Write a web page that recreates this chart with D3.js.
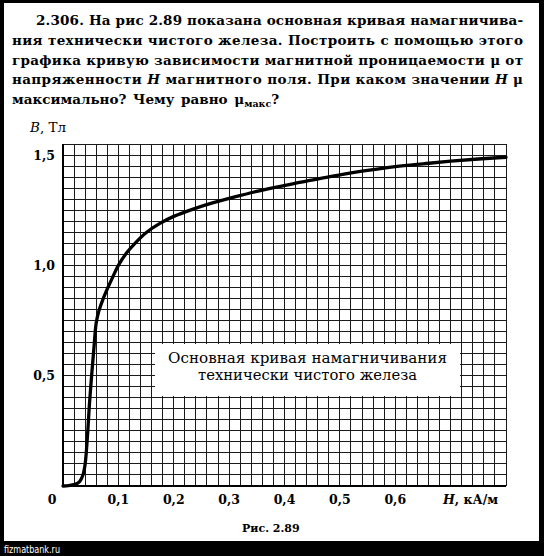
<!DOCTYPE html>
<html><head><meta charset="utf-8">
<script src="https://cdn.jsdelivr.net/npm/d3@7"></script>
<style>body{margin:0;background:#000}svg{display:block}</style>
</head><body>
<script>
// Data
const H_values = [0, 0.01, 0.02, 0.03, 0.036, 0.04, 0.044, 0.048, 0.052, 0.056, 0.06, 0.065, 0.072, 0.08, 0.09, 0.1, 0.115, 0.13, 0.15, 0.175, 0.2, 0.235, 0.27, 0.31, 0.35, 0.39, 0.43, 0.47, 0.5, 0.55, 0.6, 0.65, 0.7, 0.75, 0.8];
const B_values = [0, 0.002, 0.006, 0.02, 0.05, 0.1, 0.22, 0.38, 0.51, 0.63, 0.74, 0.795, 0.845, 0.893, 0.948, 1.0, 1.057, 1.1, 1.148, 1.19, 1.222, 1.255, 1.283, 1.31, 1.335, 1.357, 1.377, 1.397, 1.41, 1.43, 1.447, 1.46, 1.472, 1.482, 1.49];
const xTicks = [0.1, 0.2, 0.3, 0.4, 0.5, 0.6];
const xTickLabels = ["0,1", "0,2", "0,3", "0,4", "0,5", "0,6"];
const yTicks = [0.5, 1.0, 1.5];
const yTickLabels = ["0,5", "1,0", "1,5"];
const xGridStep = 0.02, yGridStep = 0.05;
const xMax = 0.8, yMax = 1.55;

const W = 544, Hh = 556;
const svg = d3.select("body").append("svg").attr("width", W).attr("height", Hh);
svg.append("rect").attr("width", W).attr("height", Hh).attr("fill", "#000");
svg.append("rect").attr("x", 4).attr("y", 3).attr("width", 535).attr("height", 538).attr("fill", "#fff");

const serif = "'DejaVu Serif', serif";

// Title text
const title = [
  {x: 36, y: 25, len: 487, parts: [["2.306. ", "normal", 900], ["На рис 2.89 показана основная кривая намагничива-", "normal", "bold"]]},
  {x: 12, y: 45, len: 511, parts: [["ния технически чистого железа. Построить с помощью этого", "normal", "bold"]]},
  {x: 12, y: 64.5, len: 511, parts: [["графика кривую зависимости магнитной проницаемости μ от", "normal", "bold"]]},
  {x: 12, y: 84, len: 511, parts: [["напряженности ", "normal", "bold"], ["H", "italic", "bold"], [" магнитного поля. При каком значении ", "normal", "bold"], ["H", "italic", "bold"], [" μ", "normal", "bold"]]},
];
title.forEach(l => {
  const t = svg.append("text").attr("x", l.x).attr("y", l.y)
    .attr("font-family", serif).attr("font-size", 13.5).attr("fill", "#000")
    .attr("textLength", l.len).attr("lengthAdjust", "spacing");
  l.parts.forEach(p => t.append("tspan").attr("font-style", p[1]).attr("font-weight", p[2]).text(p[0]));
});
const t5 = svg.append("text").attr("x", 12).attr("y", 103.5)
  .attr("font-family", serif).attr("font-size", 13.5).attr("font-weight", "bold").attr("fill", "#000")
  .attr("word-spacing", 2);
t5.append("tspan").text("максимально? Чему равно μ");
t5.append("tspan").attr("font-size", 9.5).attr("dy", 3.5).text("макс");
t5.append("tspan").attr("dy", -3.5).text("?");

// Scales
const x = d3.scaleLinear().domain([0, xMax]).range([63, 506]);
const y = d3.scaleLinear().domain([0, yMax]).range([486, 144]);

// Grid
const g = svg.append("g").attr("shape-rendering", "crispEdges");
const nx = Math.round(xMax / xGridStep), ny = Math.round(yMax / yGridStep);
d3.range(nx + 1).forEach(i => {
  const v = i * xGridStep;
  g.append("line").attr("x1", x(v)).attr("x2", x(v)).attr("y1", y(0)).attr("y2", y(yMax))
    .attr("stroke", "#1a1a1a").attr("stroke-width", 1);
});
d3.range(ny + 1).forEach(i => {
  const v = i * yGridStep;
  g.append("line").attr("x1", x(0)).attr("x2", x(xMax)).attr("y1", y(v)).attr("y2", y(v))
    .attr("stroke", "#1a1a1a").attr("stroke-width", 1);
});
// axes
g.append("line").attr("x1", x(0)).attr("x2", x(0)).attr("y1", y(0) + 1).attr("y2", y(yMax)).attr("stroke", "#000").attr("stroke-width", 2);
g.append("line").attr("x1", x(0)).attr("x2", x(xMax)).attr("y1", y(0)).attr("y2", y(0)).attr("stroke", "#000").attr("stroke-width", 2);

// Label box
svg.append("rect").attr("x", 155).attr("y", 344).attr("width", 305).attr("height", 52).attr("fill", "#fff");
svg.append("text").attr("x", 307.5).attr("y", 363).attr("text-anchor", "middle")
  .attr("font-family", serif).attr("font-size", 15).attr("fill", "#000")
  .attr("textLength", 279).attr("lengthAdjust", "spacingAndGlyphs")
  .text("Основная кривая намагничивания");
svg.append("text").attr("x", 307.5).attr("y", 380).attr("text-anchor", "middle")
  .attr("font-family", serif).attr("font-size", 15).attr("fill", "#000")
  .attr("textLength", 219).attr("lengthAdjust", "spacingAndGlyphs")
  .text("технически чистого железа");

// Curve
const pts = H_values.map((h, i) => [h, B_values[i]]);
svg.append("path").datum(pts)
  .attr("d", d3.line().x(d => x(d[0])).y(d => y(d[1])).curve(d3.curveCatmullRom.alpha(0.5)))
  .attr("fill", "none").attr("stroke", "#000").attr("stroke-width", 3.3)
  .attr("stroke-linecap", "round").attr("stroke-linejoin", "round");

// Tick labels
const fs = 12.5;
xTicks.forEach((v, i) => {
  svg.append("text").attr("x", x(v)).attr("y", 504).attr("text-anchor", "middle")
    .attr("font-family", serif).attr("font-size", fs).attr("font-weight", "bold").text(xTickLabels[i]);
});
yTicks.forEach((v, i) => {
  svg.append("text").attr("x", 55).attr("y", y(v) + 4.5).attr("text-anchor", "end")
    .attr("font-family", serif).attr("font-size", fs).attr("font-weight", "bold").text(yTickLabels[i]);
});
svg.append("text").attr("x", 52).attr("y", 504).attr("text-anchor", "middle")
  .attr("font-family", serif).attr("font-size", fs).attr("font-weight", "bold").text("0");

// Axis titles
const xt = svg.append("text").attr("x", 443).attr("y", 504)
  .attr("font-family", serif).attr("font-size", fs).attr("font-weight", "bold");
xt.append("tspan").attr("font-style", "italic").text("H");
xt.append("tspan").text(", кА/м");
const yt = svg.append("text").attr("x", 30).attr("y", 132)
  .attr("font-family", serif).attr("font-size", 13.5);
yt.append("tspan").attr("font-style", "italic").text("B");
yt.append("tspan").text(", Тл");

// Caption
svg.append("text").attr("x", 242).attr("y", 532)
  .attr("font-family", serif).attr("font-size", 11).attr("font-weight", "bold").text("Рис. 2.89");

// Watermark
svg.append("text").attr("x", 4).attr("y", 553)
  .attr("font-family", "'DejaVu Sans', sans-serif").attr("font-size", 10).attr("fill", "#fff")
  .attr("textLength", 56).attr("lengthAdjust", "spacingAndGlyphs").text("fizmatbank.ru");
</script>
</body></html>
